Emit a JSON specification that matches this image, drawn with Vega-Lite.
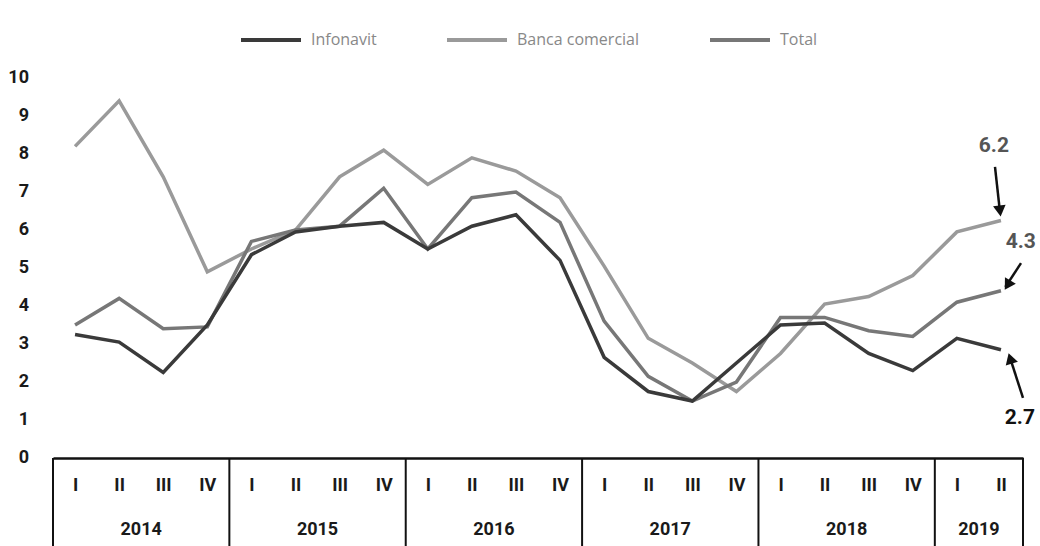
{
  "$schema": "https://vega.github.io/schema/vega-lite/v6.json",
  "width": 970,
  "height": 380,
  "autosize": "none",
  "padding": {"left": 53, "top": 78, "right": 17, "bottom": 88},
  "background": "white",
  "config": {"view": {"stroke": null}},
  "datasets": {
    "series": [
      {"q": 0, "serie": "Banca comercial", "v": 8.2},
      {"q": 1, "serie": "Banca comercial", "v": 9.4},
      {"q": 2, "serie": "Banca comercial", "v": 7.4},
      {"q": 3, "serie": "Banca comercial", "v": 4.9},
      {"q": 4, "serie": "Banca comercial", "v": 5.5},
      {"q": 5, "serie": "Banca comercial", "v": 6.0},
      {"q": 6, "serie": "Banca comercial", "v": 7.4},
      {"q": 7, "serie": "Banca comercial", "v": 8.1},
      {"q": 8, "serie": "Banca comercial", "v": 7.2},
      {"q": 9, "serie": "Banca comercial", "v": 7.9},
      {"q": 10, "serie": "Banca comercial", "v": 7.55},
      {"q": 11, "serie": "Banca comercial", "v": 6.85},
      {"q": 12, "serie": "Banca comercial", "v": 5.05},
      {"q": 13, "serie": "Banca comercial", "v": 3.15},
      {"q": 14, "serie": "Banca comercial", "v": 2.5},
      {"q": 15, "serie": "Banca comercial", "v": 1.75},
      {"q": 16, "serie": "Banca comercial", "v": 2.75},
      {"q": 17, "serie": "Banca comercial", "v": 4.05},
      {"q": 18, "serie": "Banca comercial", "v": 4.25},
      {"q": 19, "serie": "Banca comercial", "v": 4.8},
      {"q": 20, "serie": "Banca comercial", "v": 5.95},
      {"q": 21, "serie": "Banca comercial", "v": 6.25},
      {"q": 0, "serie": "Total", "v": 3.5},
      {"q": 1, "serie": "Total", "v": 4.2},
      {"q": 2, "serie": "Total", "v": 3.4},
      {"q": 3, "serie": "Total", "v": 3.45},
      {"q": 4, "serie": "Total", "v": 5.7},
      {"q": 5, "serie": "Total", "v": 6.0},
      {"q": 6, "serie": "Total", "v": 6.1},
      {"q": 7, "serie": "Total", "v": 7.1},
      {"q": 8, "serie": "Total", "v": 5.5},
      {"q": 9, "serie": "Total", "v": 6.85},
      {"q": 10, "serie": "Total", "v": 7.0},
      {"q": 11, "serie": "Total", "v": 6.2},
      {"q": 12, "serie": "Total", "v": 3.6},
      {"q": 13, "serie": "Total", "v": 2.15},
      {"q": 14, "serie": "Total", "v": 1.5},
      {"q": 15, "serie": "Total", "v": 2.0},
      {"q": 16, "serie": "Total", "v": 3.7},
      {"q": 17, "serie": "Total", "v": 3.7},
      {"q": 18, "serie": "Total", "v": 3.35},
      {"q": 19, "serie": "Total", "v": 3.2},
      {"q": 20, "serie": "Total", "v": 4.1},
      {"q": 21, "serie": "Total", "v": 4.4},
      {"q": 0, "serie": "Infonavit", "v": 3.25},
      {"q": 1, "serie": "Infonavit", "v": 3.05},
      {"q": 2, "serie": "Infonavit", "v": 2.25},
      {"q": 3, "serie": "Infonavit", "v": 3.5},
      {"q": 4, "serie": "Infonavit", "v": 5.35},
      {"q": 5, "serie": "Infonavit", "v": 5.95},
      {"q": 6, "serie": "Infonavit", "v": 6.1},
      {"q": 7, "serie": "Infonavit", "v": 6.2},
      {"q": 8, "serie": "Infonavit", "v": 5.5},
      {"q": 9, "serie": "Infonavit", "v": 6.1},
      {"q": 10, "serie": "Infonavit", "v": 6.4},
      {"q": 11, "serie": "Infonavit", "v": 5.2},
      {"q": 12, "serie": "Infonavit", "v": 2.65},
      {"q": 13, "serie": "Infonavit", "v": 1.75},
      {"q": 14, "serie": "Infonavit", "v": 1.5},
      {"q": 15, "serie": "Infonavit", "v": 2.5},
      {"q": 16, "serie": "Infonavit", "v": 3.5},
      {"q": 17, "serie": "Infonavit", "v": 3.55},
      {"q": 18, "serie": "Infonavit", "v": 2.75},
      {"q": 19, "serie": "Infonavit", "v": 2.3},
      {"q": 20, "serie": "Infonavit", "v": 3.15},
      {"q": 21, "serie": "Infonavit", "v": 2.85}
    ],
    "yticks": [
      {"t": 0}, {"t": 1}, {"t": 2}, {"t": 3}, {"t": 4}, {"t": 5}, {"t": 6}, {"t": 7}, {"t": 8}, {"t": 9}, {"t": 10}
    ],
    "years": [
      {"year": "2014", "mid": 1.5},
      {"year": "2015", "mid": 5.5},
      {"year": "2016", "mid": 9.5},
      {"year": "2017", "mid": 13.5},
      {"year": "2018", "mid": 17.5},
      {"year": "2019", "mid": 20.5}
    ],
    "dividers": [
      {"b": -0.5}, {"b": 3.5}, {"b": 7.5}, {"b": 11.5}, {"b": 15.5}, {"b": 19.5}, {"b": 21.5}
    ],
    "labels": [
      {"id": "a", "t": "6.2", "x": 20.84, "y": 8.21, "dark": "no"},
      {"id": "b", "t": "4.3", "x": 21.45, "y": 5.68, "dark": "no"},
      {"id": "c", "t": "2.7", "x": 21.43, "y": 1.05, "dark": "yes"}
    ],
    "arrows": [
      {"id": "a", "x": 20.865, "y": 7.66, "x2": 20.98, "y2": 6.45, "hx": 20.978, "hy": 6.5},
      {"id": "b", "x": 21.455, "y": 5.13, "x2": 21.1, "y2": 4.5, "hx": 21.15, "hy": 4.55},
      {"id": "c", "x": 21.5, "y": 1.58, "x2": 21.2, "y2": 2.66, "hx": 21.21, "hy": 2.62}
    ]
  },
  "layer": [
    {
      "data": {"name": "series"},
      "mark": {"type": "line", "strokeWidth": 3.5, "strokeJoin": "miter"},
      "encoding": {
        "x": {
          "field": "q", "type": "quantitative", "title": null,
          "scale": {"domain": [-0.5, 21.5], "nice": false, "zero": false},
          "axis": {
            "title": null, "values": [0,1,2,3,4,5,6,7,8,9,10,11,12,13,14,15,16,17,18,19,20,21],
            "labelExpr": "['I','II','III','IV'][datum.value % 4]",
            "grid": false, "ticks": false, "tickSize": 0,
            "domain": true, "domainColor": "#111111", "domainWidth": 2.5,
            "labelFont": "Roboto", "labelFontWeight": "bold", "labelFontSize": 18,
            "labelColor": "#1a1a1a", "labelPadding": 27, "labelBaseline": "middle",
            "labelFlush": false, "labelOverlap": false
          }
        },
        "y": {
          "field": "v", "type": "quantitative", "title": null,
          "scale": {"domain": [0, 10], "nice": false},
          "axis": null
        },
        "color": {
          "field": "serie", "type": "nominal",
          "scale": {"domain": ["Infonavit", "Banca comercial", "Total"], "range": ["#3a3a3a", "#9a9a9a", "#777777"]},
          "legend": {
            "title": null, "orient": "none", "direction": "horizontal",
            "legendX": 186, "legendY": -70,
            "symbolType": "stroke", "symbolSize": 3600, "symbolStrokeWidth": 4,
            "labelFont": "Open Sans", "labelFontSize": 16, "labelColor": "#888888",
            "labelOffset": 8, "columnPadding": 62
          }
        },
        "order": {"field": "q", "type": "quantitative"}
      }
    },
    {
      "data": {"name": "yticks"},
      "mark": {"type": "text", "font": "Roboto", "fontWeight": "bold", "fontSize": 18, "color": "#1a1a1a", "baseline": "middle", "align": "right", "dx": -24},
      "encoding": {
        "x": {"datum": -0.5, "type": "quantitative"},
        "y": {"field": "t", "type": "quantitative", "axis": null},
        "text": {"field": "t", "type": "quantitative"}
      }
    },
    {
      "data": {"name": "dividers"},
      "mark": {"type": "rule", "color": "#111111", "strokeWidth": 2},
      "encoding": {
        "x": {"field": "b", "type": "quantitative", "title": null},
        "y": {"datum": 0, "type": "quantitative", "axis": null},
        "y2": {"datum": -2.6}
      }
    },
    {
      "data": {"name": "years"},
      "mark": {"type": "text", "font": "Roboto", "fontWeight": "bold", "fontSize": 18, "color": "#1a1a1a", "baseline": "middle", "align": "center"},
      "encoding": {
        "x": {"field": "mid", "type": "quantitative", "title": null},
        "y": {"datum": -1.9, "type": "quantitative", "axis": null},
        "text": {"field": "year"}
      }
    },
    {
      "data": {"name": "arrows"},
      "mark": {"type": "rule", "color": "#111111", "strokeWidth": 2.5},
      "encoding": {
        "x": {"field": "x", "type": "quantitative", "title": null},
        "y": {"field": "y", "type": "quantitative", "axis": null},
        "x2": {"field": "x2"},
        "y2": {"field": "y2"}
      }
    },
    {
      "data": {"name": "arrows"},
      "transform": [{"filter": "datum.id == 'a'"}],
      "mark": {"type": "point", "shape": "triangle-down", "filled": true, "color": "#111111", "size": 160, "angle": -7, "opacity": 1},
      "encoding": {
        "x": {"field": "hx", "type": "quantitative", "title": null},
        "y": {"field": "hy", "type": "quantitative", "axis": null}
      }
    },
    {
      "data": {"name": "arrows"},
      "transform": [{"filter": "datum.id == 'b'"}],
      "mark": {"type": "point", "shape": "triangle-down", "filled": true, "color": "#111111", "size": 160, "angle": 31, "opacity": 1},
      "encoding": {
        "x": {"field": "hx", "type": "quantitative", "title": null},
        "y": {"field": "hy", "type": "quantitative", "axis": null}
      }
    },
    {
      "data": {"name": "arrows"},
      "transform": [{"filter": "datum.id == 'c'"}],
      "mark": {"type": "point", "shape": "triangle-up", "filled": true, "color": "#111111", "size": 160, "angle": -17, "opacity": 1},
      "encoding": {
        "x": {"field": "hx", "type": "quantitative", "title": null},
        "y": {"field": "hy", "type": "quantitative", "axis": null}
      }
    },
    {
      "data": {"name": "labels"},
      "mark": {"type": "text", "font": "Roboto", "fontWeight": "bold", "fontSize": 21, "baseline": "middle", "align": "center"},
      "encoding": {
        "x": {"field": "x", "type": "quantitative", "title": null},
        "y": {"field": "y", "type": "quantitative", "axis": null},
        "text": {"field": "t"},
        "color": {"field": "dark", "type": "nominal", "scale": {"domain": ["no", "yes"], "range": ["#555555", "#111111"]}, "legend": null}
      }
    }
  ],
  "resolve": {"scale": {"color": "independent"}}
}
